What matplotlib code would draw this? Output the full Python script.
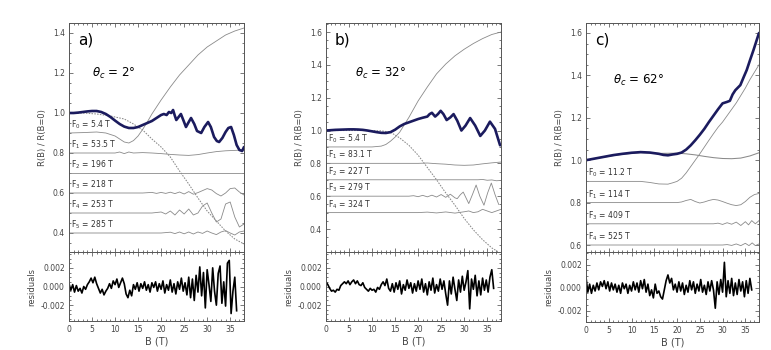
import matplotlib
matplotlib.use("Agg")
import matplotlib.pyplot as plt
from matplotlib.ticker import MultipleLocator, FormatStrFormatter
import numpy as np

# ---------------- panel a)  theta_c = 2 deg ----------------
a_data_B = [0, 1, 2, 3, 4, 5, 6, 7, 8, 9, 10, 11, 12, 13, 14, 15, 16, 17, 18, 19, 20,
            20.6, 21.2, 21.7, 22.2, 22.6, 23.0, 23.3, 23.8, 24.3, 24.9,
            25.4, 26.0, 26.5, 27.2, 27.8, 28.7, 29.4, 30.2, 30.8, 31.5,
            32.1, 32.6, 33.3, 34.0, 34.6, 35.2, 35.8, 36.4, 37.0, 37.6, 38.0]
a_data_R = [1.0, 1.0, 1.002, 1.005, 1.008, 1.01, 1.01, 1.005, 0.995, 0.98, 0.962, 0.945, 0.932,
            0.925, 0.925, 0.93, 0.94, 0.95, 0.96, 0.975, 0.99,
            0.995, 0.99, 1.005, 1.0, 1.015, 0.985, 0.965, 0.98, 0.995, 0.96,
            0.93, 0.955, 0.975, 0.945, 0.91, 0.90, 0.93, 0.955, 0.93, 0.88,
            0.86, 0.855, 0.875, 0.905, 0.925, 0.93, 0.89, 0.84, 0.815, 0.81, 0.83]
a_bg_B = [0, 3, 6, 9, 12, 14, 16, 18, 20, 22, 24, 26, 28, 30, 32, 34, 36, 38]
a_bg_R = [1.0, 1.0, 0.995, 0.985, 0.97, 0.945, 0.915, 0.87, 0.83, 0.78, 0.71, 0.645, 0.575,
          0.51, 0.46, 0.41, 0.37, 0.345]
a_f0_B = [0, 3, 6, 8, 10, 11, 12, 13, 14, 15, 16, 17, 18, 19, 20, 22, 24, 26, 28, 30, 32, 34, 36, 38]
a_f0_R = [0.9, 0.902, 0.905, 0.9, 0.885, 0.87, 0.855, 0.85, 0.862, 0.885, 0.918, 0.955, 0.995,
          1.03, 1.065, 1.13, 1.19, 1.24, 1.29, 1.33, 1.36, 1.39, 1.41, 1.425]
a_f1_B = [0, 10, 11, 12, 13, 14, 16, 18, 20, 22, 24, 26, 28, 30, 32, 34, 36, 38]
a_f1_R = [0.8, 0.8, 0.805, 0.797, 0.805, 0.8, 0.802, 0.8, 0.797, 0.793, 0.79, 0.788, 0.792,
          0.8, 0.807, 0.811, 0.813, 0.815]
a_f2_B = [0, 38]
a_f2_R = [0.7, 0.7]
a_f3_B = [0, 16, 18, 19, 20, 21, 22, 23, 24, 25, 26, 27, 28, 29, 30, 31, 32, 33, 34, 35, 36, 37, 38]
a_f3_R = [0.6, 0.6, 0.603, 0.598, 0.603, 0.598, 0.604, 0.597, 0.605, 0.595, 0.607, 0.594, 0.602,
          0.612, 0.622, 0.615, 0.597, 0.585, 0.6, 0.622, 0.625, 0.605, 0.59]
a_f4_B = [0, 18, 20, 21, 22, 23, 24, 25, 26, 27, 28, 29, 30, 31, 32, 33, 34, 35, 36, 37, 38]
a_f4_R = [0.5, 0.5, 0.505, 0.495, 0.51, 0.49, 0.515, 0.495, 0.52, 0.49, 0.5, 0.535, 0.55, 0.5,
          0.455, 0.47, 0.545, 0.555, 0.48, 0.43, 0.445]
a_f5_B = [0, 20, 22, 23, 24, 25, 26, 27, 28, 29, 30, 31, 32, 33, 34, 35, 36, 37, 38]
a_f5_R = [0.4, 0.4, 0.404, 0.397, 0.405, 0.396, 0.405, 0.395, 0.405, 0.398, 0.41, 0.4, 0.392,
          0.405, 0.412, 0.4, 0.39, 0.405, 0.41]
a_labels = ["F$_0$ = 5.4 T", "F$_1$ = 53.5 T", "F$_2$ = 196 T", "F$_3$ = 218 T",
            "F$_4$ = 253 T", "F$_5$ = 285 T"]
a_bases = [0.9, 0.8, 0.7, 0.6, 0.5, 0.4]
# residuals, units of 1e-3, read every 0.4 T
a_res = [0.3, -0.4, 0.2, -0.6, 0.1, -0.5, -0.2, -0.7, 0.0, -0.3, 0.2,
         0.5, 0.9, 0.4, 1.0, 0.3,
         -0.2, -0.7, -0.3, -0.9, -0.5, -0.2,
         0.3, -0.2, 0.6, 0.2, 0.8, -0.1, 0.4, 0.9,
         0.3, -0.8, -1.2, -0.4, -1.0, 0.2,
         -0.3, 0.4, -0.5, 0.3, -0.2, 0.5, -0.4, 0.2, -0.6, 0.4, -0.1, 0.5, -0.5, 0.3, -0.3,
         0.6, -0.7, 0.2, -0.4, 0.7, -0.6, 0.3, -0.8, 0.5, -0.3, 0.9, -0.5, 0.4, -0.9, 1.0,
         -1.2, 0.8, -1.5, 1.2, -0.6,
         2.1, -1.0, 1.5, -2.3, 1.8, 0.2, -1.6, 2.0, -0.5, -2.0, 1.4, 2.2, -1.8, 0.5, -2.1,
         2.5, 2.8, -2.9, -0.5, 1.0, -2.6]

# ---------------- panel b)  theta_c = 32 deg ----------------
b_data_B = [0, 1, 2, 3, 4, 5, 6, 7, 8, 9, 10, 11, 12, 13, 14, 15, 16, 17, 18, 19, 20, 21, 22,
            22.5, 23, 23.7, 24.3, 24.9, 25.5, 26.2, 27.0, 27.7, 28.5,
            29.4, 30.3, 31.3, 32.4, 33.5, 34.5, 35.6, 36.7, 37.8]
b_data_R = [1.0, 1.002, 1.004, 1.005, 1.006, 1.007, 1.007, 1.006, 1.004, 1.0, 0.995, 0.99, 0.986,
            0.985, 0.99, 1.005, 1.025, 1.04, 1.05, 1.06, 1.07, 1.078, 1.085,
            1.1, 1.108, 1.085, 1.1, 1.12, 1.1, 1.064, 1.08, 1.1, 1.06,
            1.0, 1.03, 1.076, 1.03, 0.967, 1.0, 1.054, 1.01, 0.91]
b_bg_B = [0, 5, 10, 12, 14, 16, 18, 20, 22, 24, 26, 28, 30, 32, 34, 36, 38]
b_bg_R = [1.0, 1.0, 1.0, 0.998, 0.99, 0.955, 0.91, 0.85, 0.775, 0.7, 0.62, 0.545, 0.465,
          0.395, 0.335, 0.285, 0.25]
b_f0_B = [0, 5, 10, 12, 13, 14, 15, 16, 17, 18, 19, 20, 22, 24, 26, 28, 30, 32, 34, 36, 38]
b_f0_R = [0.9, 0.9, 0.9, 0.905, 0.915, 0.935, 0.96, 0.99, 1.035, 1.08, 1.13, 1.18, 1.265,
          1.345, 1.405, 1.455, 1.495, 1.53, 1.56, 1.585, 1.6]
b_f1_B = [0, 20, 22, 24, 26, 28, 30, 32, 34, 36, 38]
b_f1_R = [0.8, 0.8, 0.802, 0.798, 0.795, 0.79, 0.788, 0.79, 0.797, 0.803, 0.808]
b_f2_B = [0, 33, 34, 35, 36, 37, 38]
b_f2_R = [0.7, 0.7, 0.702, 0.697, 0.699, 0.694, 0.696]
b_f3_B = [0, 18, 19, 20, 21, 22, 23, 24, 25, 26, 27, 28, 28.5, 29.2, 29.8, 30.4, 31.0, 31.8,
          32.6, 33.4, 34.3, 35.1, 35.9, 36.7, 37.5]
b_f3_R = [0.6, 0.6, 0.603, 0.597, 0.605, 0.596, 0.606, 0.595, 0.61, 0.593, 0.612, 0.59, 0.585,
          0.61, 0.625, 0.59, 0.555, 0.61, 0.668, 0.6, 0.545, 0.62, 0.68, 0.61, 0.55]
b_f4_B = [0, 20, 22, 24, 26, 28, 30, 31, 32, 33, 34, 35, 36, 37, 38]
b_f4_R = [0.5, 0.5, 0.503, 0.498, 0.504, 0.497, 0.505, 0.51, 0.5, 0.505, 0.52, 0.51, 0.5, 0.51, 0.52]
b_labels = ["F$_0$ = 5.4 T", "F$_1$ = 83.1 T", "F$_2$ = 227 T", "F$_3$ = 279 T", "F$_4$ = 324 T"]
b_bases = [0.9, 0.8, 0.7, 0.6, 0.5]
b_res = [0.5, 0.2, -0.2, -0.5, -0.4, -0.6, -0.3, -0.4, 0.1, 0.3, 0.5,
         0.3, 0.6, 0.2, 0.5, 0.7,
         0.3, 0.6, 0.2, 0.1, 0.4, -0.1,
         -0.3, -0.5, -0.2, -0.4, -0.3, -0.6, -0.1, -0.3,
         0.2, 0.5, 0.1, 0.8, -0.2, -0.5,
         0.3, -0.6, 0.4, -0.3, 0.6, -0.8, 0.2, -0.4, 0.7, -0.2, 0.4, -0.7, 0.3, -0.5, 0.6,
         -0.3, 0.8, -0.6, 0.3, -0.9, 0.5, -0.4, 0.9, -0.7, 0.2, -0.5, 0.8, -0.3, 0.6, -0.8,
         -2.0, 0.6, -0.8, 1.0, -0.3,
         -1.5, 0.7, -0.6, 1.1, -0.4, 0.5, 1.7, -2.4, 0.8, -0.3, 1.2, -1.0, 0.6, -0.9, 0.9,
         -0.4, 0.7, -0.6, 1.0, 1.8, -0.2]

# ---------------- panel c)  theta_c = 62 deg ----------------
c_data_B = [0, 2, 4, 6, 8, 10, 12, 14, 16, 17, 18, 19, 20, 21, 22, 23, 24, 25, 26, 27,
            28, 29, 30, 31, 31.6, 32.2, 32.8, 33.9, 34.6, 35.3, 36, 36.8, 37.4, 38]
c_data_R = [1.0, 1.008, 1.016, 1.024, 1.03, 1.035, 1.038, 1.036, 1.03, 1.025,
            1.023, 1.027, 1.03, 1.036, 1.05, 1.07, 1.094, 1.12, 1.148, 1.18,
            1.21, 1.24, 1.268, 1.275, 1.28, 1.31, 1.33, 1.354, 1.39, 1.425,
            1.47, 1.52, 1.56, 1.6]
c_bg_B = [0, 4, 8, 12, 16, 20, 22, 24, 26, 28, 30, 32, 34, 36, 38]
c_bg_R = [1.0, 1.015, 1.028, 1.036, 1.032, 1.033, 1.03, 1.025, 1.018, 1.012, 1.008, 1.007,
          1.01, 1.02, 1.035]
c_f0_B = [0, 4, 8, 12, 14, 16, 18, 19, 20, 21, 22, 23, 24, 25, 26, 27, 28, 29, 30, 31, 32,
          33, 34, 35, 36, 37, 38]
c_f0_R = [0.9, 0.9, 0.9, 0.9, 0.895, 0.888, 0.887, 0.893, 0.9, 0.915, 0.94, 0.97, 1.0, 1.03,
          1.062, 1.094, 1.125, 1.155, 1.18, 1.21, 1.24, 1.27, 1.305, 1.34, 1.38, 1.415, 1.45]
c_f1_B = [0, 20, 21, 22, 23, 24, 25, 26, 27, 28, 29, 30, 31, 32, 33, 34, 35, 36, 37, 38]
c_f1_R = [0.8, 0.8, 0.803, 0.81, 0.815, 0.805, 0.798, 0.803, 0.81, 0.815, 0.812, 0.805, 0.797,
          0.79, 0.786, 0.79, 0.805, 0.825, 0.838, 0.843]
c_f3_B = [0, 28, 29, 30, 31, 32, 33, 34, 35, 35.7, 36.4, 37.2, 38]
c_f3_R = [0.7, 0.7, 0.703, 0.697, 0.705, 0.698, 0.708, 0.692, 0.71, 0.695, 0.715, 0.7, 0.715]
c_f4_B = [0, 30, 31, 32, 33, 34, 35, 35.8, 36.5, 37.2, 38]
c_f4_R = [0.6, 0.6, 0.602, 0.598, 0.605, 0.597, 0.608, 0.597, 0.61, 0.597, 0.605]
c_labels = ["F$_0$ = 11.2 T", "F$_1$ = 114 T", "F$_3$ = 409 T", "F$_4$ = 525 T"]
c_bases = [0.9, 0.8, 0.7, 0.6]
c_res = [0.9, -0.4, 0.3, -0.5, 0.2, -0.3, 0.4, -0.2, 0.5, 0.1, 0.6,
         -0.1, 0.5, -0.3, 0.4, -0.2,
         0.3, -0.4, 0.2, -0.5, 0.4, -0.1,
         0.3, -0.5, 0.2, -0.3, 0.5, -0.2, 0.4, -0.4,
         0.6, -0.1, 0.7, -0.4, 0.3, -0.7,
         -0.2, -0.9, 0.3, -0.5, -0.3, -0.8, -1.0, -0.2, 0.6, 1.1, 0.4, 0.8, -0.2, 0.3, -0.4,
         0.5, -0.3, 0.4, -0.6, 0.2, -0.4, 0.6, -0.2, 0.5, -0.5, 0.3, -0.3, 0.7, -0.4, 0.2,
         -0.6, 0.5, -0.3, 0.6, -0.2,
         -1.8, 0.5, -0.6, 0.7, -0.4, 2.2, -0.8, 0.6, -0.5, 0.8, -0.7, 0.4, -0.6, 0.7, -0.3,
         0.5, -0.8, 0.6, -0.5, 0.8, -0.2]

NAVY = "#1b1b5e"
GRAY = "#8a8a8a"
TXT = "#444444"
W, H = 771, 350

fig = plt.figure(figsize=(7.71, 3.5), dpi=100)


def add_ax(x0, y0, x1, y1):
    return fig.add_axes([x0 / W, 1 - y1 / H, (x1 - x0) / W, (y1 - y0) / H])


def style(ax):
    ax.set_xlim(0, 38)
    ax.xaxis.set_major_locator(MultipleLocator(5))
    ax.xaxis.set_minor_locator(MultipleLocator(1))
    ax.tick_params(which="both", direction="in", top=True, right=True,
                   colors=TXT, labelsize=5.5, width=0.5, length=3, pad=3)
    ax.tick_params(which="minor", length=1.5)
    for s in ax.spines.values():
        s.set_linewidth(0.7)
        s.set_color("#555555")


def panel(x0, x1, res_bottom, ylim, res_ylim, tag, theta, theta_xy,
          data, bg, bg_dotted, comps, labels, bases, res):
    ax = add_ax(x0, 23, x1, 252)
    style(ax)
    ax.set_ylim(*ylim)
    ax.yaxis.set_major_locator(MultipleLocator(0.2))
    ax.yaxis.set_minor_locator(MultipleLocator(0.05))
    ax.yaxis.set_major_formatter(FormatStrFormatter("%.1f"))
    ax.tick_params(labelbottom=False)
    ax.set_ylabel("R(B) / R(B=0)", fontsize=6, color=TXT, labelpad=4)
    for B, R in comps:
        ax.plot(B, R, color=GRAY, lw=0.6)
    ax.plot(bg[0], bg[1], color=GRAY, lw=0.75,
            ls=(0, (1.5, 1.2)) if bg_dotted else "-")
    ax.plot(data[0], data[1], color=NAVY, lw=1.9, solid_capstyle="round")
    for name, base in zip(labels, bases):
        ax.annotate(name, (0.5, base), xytext=(0, 1.5), textcoords="offset points",
                    fontsize=5.5, color="#333333", va="bottom")
    ax.text(0.05, 0.926, tag, transform=ax.transAxes, fontsize=11, va="center")
    ax.text(theta_xy[0], theta_xy[1], theta, transform=ax.transAxes, fontsize=8.5,
            va="center")

    rx = add_ax(x0, 252, x1, res_bottom)
    style(rx)
    rB = np.arange(len(res)) * 0.4
    rx.plot(rB, np.array(res) * 1e-3, color="black", lw=1.2)
    rx.set_ylim(*res_ylim)
    rx.set_yticks([-0.002, 0.0, 0.002])
    rx.yaxis.set_minor_locator(MultipleLocator(0.0005))
    rx.yaxis.set_major_formatter(FormatStrFormatter("%.3f"))
    rx.set_ylabel("residuals", fontsize=6, color=TXT, labelpad=3)
    rx.set_xlabel("B (T)", fontsize=7, color=TXT, labelpad=2)
    return ax, rx


panel(69, 244, 321, (0.305, 1.45), (-0.0037, 0.0037), "a)",
      r"$\theta_c$ = 2°", (0.13, 0.78),
      (a_data_B, a_data_R), (a_bg_B, a_bg_R), True,
      [(a_f0_B, a_f0_R), (a_f1_B, a_f1_R), (a_f2_B, a_f2_R), (a_f3_B, a_f3_R),
       (a_f4_B, a_f4_R), (a_f5_B, a_f5_R)],
      a_labels, a_bases, a_res)

panel(326, 501, 321, (0.26, 1.655), (-0.0037, 0.0037), "b)",
      r"$\theta_c$ = 32°", (0.166, 0.78),
      (b_data_B, b_data_R), (b_bg_B, b_bg_R), True,
      [(b_f0_B, b_f0_R), (b_f1_B, b_f1_R), (b_f2_B, b_f2_R), (b_f3_B, b_f3_R),
       (b_f4_B, b_f4_R)],
      b_labels, b_bases, b_res)

panel(586, 759, 322, (0.567, 1.647), (-0.003, 0.0031), "c)",
      r"$\theta_c$ = 62°", (0.156, 0.75),
      (c_data_B, c_data_R), (c_bg_B, c_bg_R), False,
      [(c_f0_B, c_f0_R), (c_f1_B, c_f1_R), (c_f3_B, c_f3_R), (c_f4_B, c_f4_R)],
      c_labels, c_bases, c_res)

fig.savefig("out.png", dpi=100)
